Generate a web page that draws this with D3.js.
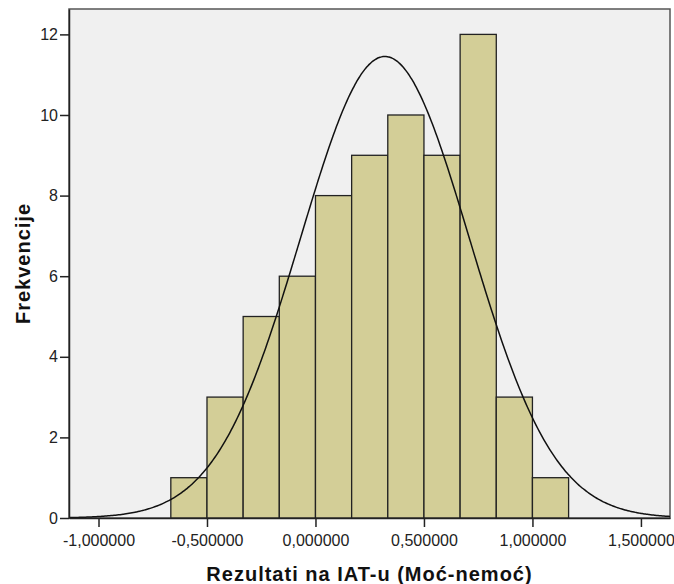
<!DOCTYPE html>
<html><head><meta charset="utf-8">
<script src="https://cdn.jsdelivr.net/npm/d3@7"></script>
<style>body{margin:0;background:#fff;} text{font-family:"Liberation Sans",Arial,sans-serif;}</style>
</head><body>
<svg id="c" width="674" height="584"></svg>
<script>
// Data
const binStarts = [-0.6667,-0.5,-0.3333,-0.1667,0,0.1667,0.3333,0.5,0.6667,0.8333,1.0];
const binWidth = 0.16667;
const counts = [1,3,5,6,8,9,10,9,12,3,1];
const xTicks = [-1,-0.5,0,0.5,1,1.5];
const xTickLabels = ["-1,000000","-0,500000","0,000000","0,500000","1,000000","1,500000"];
const yTicks = [0,2,4,6,8,10,12];
const fitMean = 0.32, fitSd = 0.389, fitN = 67;
const xTitle = "Rezultati na IAT-u (Moć-nemoć)";
const yTitle = "Frekvencije";

const svg = d3.select("#c");
const L=69, R=670, T=9, B=518;
const x = d3.scaleLinear().domain([-1.136,1.634]).range([L,R]);
const y = d3.scaleLinear().domain([0,12.63]).range([B,T]);

svg.append("rect").attr("x",L).attr("y",T).attr("width",R-L).attr("height",B-T)
  .attr("fill","#f0f0f0").attr("stroke","#555").attr("stroke-width",1.5);

svg.selectAll("rect.bar").data(counts).join("rect").attr("class","bar")
  .attr("x",(d,i)=>x(binStarts[i])).attr("width",(d,i)=>x(binStarts[i]+binWidth)-x(binStarts[i]))
  .attr("y",d=>y(d)).attr("height",d=>y(0)-y(d))
  .attr("fill","#d3ce97").attr("stroke","#222").attr("stroke-width",1.3);

const pts = d3.range(0,401).map(i=>{
  const xv = x.domain()[0] + (x.domain()[1]-x.domain()[0])*i/400;
  const z = (xv-fitMean)/fitSd;
  return [xv, fitN*binWidth/(fitSd*Math.sqrt(2*Math.PI))*Math.exp(-0.5*z*z)];
});
svg.append("path").datum(pts)
  .attr("d",d3.line().x(d=>x(d[0])).y(d=>y(d[1])).curve(d3.curveBasis))
  .attr("fill","none").attr("stroke","#111").attr("stroke-width",1.5);

// axes
const xAxis = d3.axisBottom(x).tickValues(xTicks).tickSize(9).tickSizeOuter(0)
  .tickFormat((d,i)=>xTickLabels[i]);
const gx = svg.append("g").attr("transform",`translate(0,${B})`).call(xAxis);
gx.select(".domain").attr("stroke","#222").attr("stroke-width",1.5);
gx.selectAll(".tick line").attr("stroke","#222").attr("stroke-width",1.5);
gx.selectAll(".tick text").attr("font-size",16).attr("fill","#222").attr("dy","0.98em");

const yAxis = d3.axisLeft(y).tickValues(yTicks).tickSize(9).tickSizeOuter(0);
const gy = svg.append("g").attr("transform",`translate(${L},0)`).call(yAxis);
gy.select(".domain").attr("stroke","#222").attr("stroke-width",1.5);
gy.selectAll(".tick line").attr("stroke","#222").attr("stroke-width",1.5);
gy.selectAll(".tick text").attr("font-size",16).attr("fill","#222").attr("x",-11);

svg.append("text").attr("x",(L+R)/2).attr("y",581).attr("text-anchor","middle")
  .attr("font-size",20).attr("font-weight","bold").attr("letter-spacing",1).attr("fill","#111").text(xTitle);
svg.append("text").attr("transform",`translate(30,${(T+B)/2}) rotate(-90)`).attr("text-anchor","middle")
  .attr("font-size",20).attr("font-weight","bold").attr("letter-spacing",1).attr("fill","#111").text(yTitle);
</script>
</body></html>
